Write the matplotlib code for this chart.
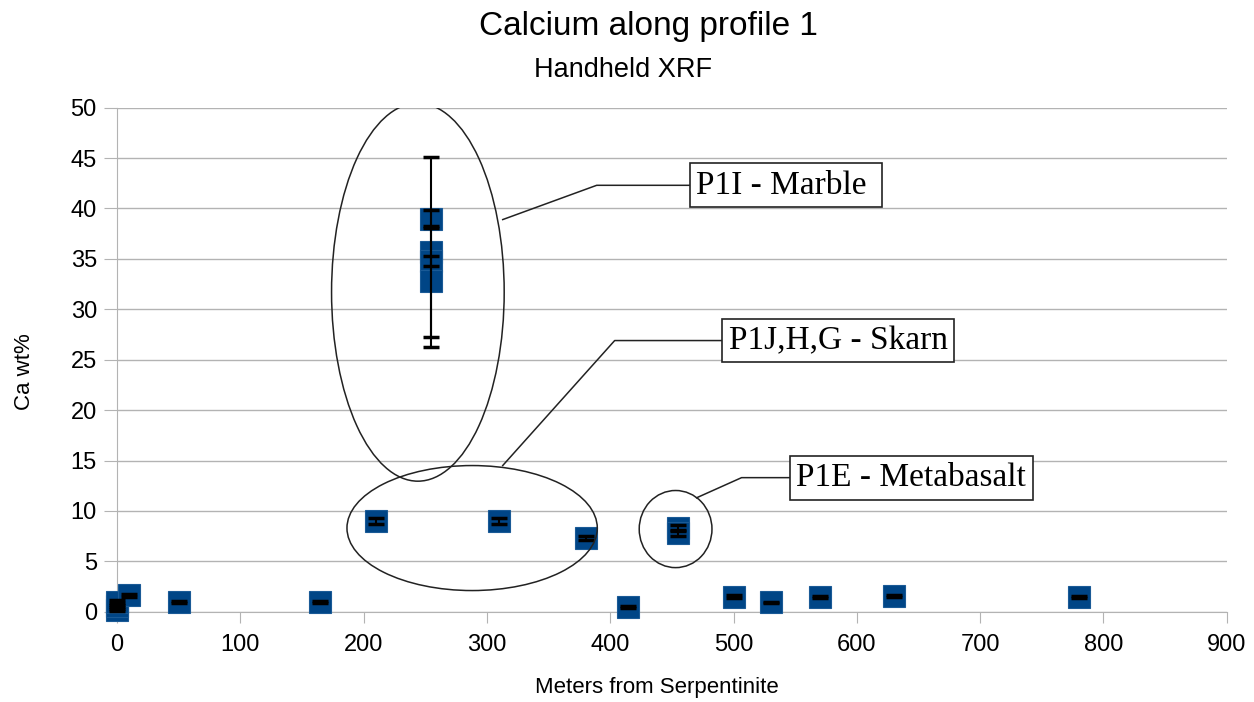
import matplotlib.pyplot as plt
from matplotlib.patches import Ellipse

# distance from serpentinite (m), Ca wt% and error
meters = [0, 0, 0, 10, 50, 165, 210, 255, 255, 255, 255, 310, 380, 414, 455, 455, 500, 530, 570, 630, 780]
ca_wt = [0.2, 0.6, 1.0, 1.65, 0.93, 1.0, 9.0, 39.0, 35.7, 34.8, 32.8, 9.0, 7.3, 0.45, 8.35, 7.85, 1.5, 0.95, 1.45, 1.55, 1.45]
ca_err = [0.1, 0.1, 0.15, 0.15, 0.1, 0.1, 0.3, 0.9, 9.4, 0.5, 5.5, 0.3, 0.2, 0.1, 0.3, 0.3, 0.15, 0.05, 0.1, 0.1, 0.1]

# groups circled on the chart: (center x, center y, width, height)
groups = {
    "marble": (244, 31.7, 140, 37.5),
    "skarn": (288, 8.3, 203, 12.4),
    "metabasalt": (453, 8.2, 59, 7.65),
}
# callouts: label, leader line x points, y points
callouts = [
    ("P1I - Marble ", [312.8, 389, 464.3], [38.9, 42.3, 42.3]),
    ("P1J,H,G - Skarn", [312.8, 403.6, 490.3], [14.5, 26.9, 26.9]),
    ("P1E - Metabasalt", [470, 506.5, 545.4], [11.3, 13.3, 13.3]),
]

plt.rcParams['font.family'] = ['Liberation Sans', 'DejaVu Sans']
fig = plt.figure(figsize=(12.54, 7.02), dpi=100)
ax = fig.add_axes([0.0933, 0.1286, 0.885, 0.718])

grey = '#b3b3b3'
ax.set_xlim(0, 900)
ax.set_ylim(0, 50)
ax.set_xticks(range(0, 901, 100))
ax.set_yticks(range(0, 51, 5))
ax.yaxis.grid(True, color=grey, lw=1)
ax.set_axisbelow(True)
for s in ['top', 'right']:
    ax.spines[s].set_visible(False)
for s in ['left', 'bottom']:
    ax.spines[s].set_color(grey)
ax.tick_params(axis='x', length=8, color=grey, labelsize=17, pad=8)
ax.tick_params(axis='y', length=9.5, color=grey, labelsize=17, pad=5)

ax.plot(meters, ca_wt, 's', ms=15.5, mfc='#004586', mec='#1a5a96', mew=0.8,
        clip_on=False, zorder=3)
ax.errorbar(meters, ca_wt, yerr=ca_err, fmt='none', ecolor='black',
            elinewidth=1.5, capsize=6, capthick=2.5, clip_on=False, zorder=4)

for cx, cy, w, h in groups.values():
    ax.add_patch(Ellipse((cx, cy), w, h, fill=False, ec='#222222', lw=1.1, zorder=5))

for label, xs, ys in callouts:
    ax.plot(xs, ys, color='#222222', lw=1.1, zorder=5)
    ax.annotate(label, xy=(xs[-1], ys[-1]), xytext=(5, 0), textcoords='offset points',
                ha='left', va='center', fontsize=24, family=['Liberation Serif'],
                bbox=dict(boxstyle='square,pad=0.2', fc='white', ec='#222222', lw=1.2),
                zorder=6)

fig.text(648 / 1254, 1 - 27 / 702, 'Calcium along profile 1', ha='center', va='center', fontsize=24)
fig.text(623 / 1254, 1 - 70 / 702, 'Handheld XRF', ha='center', va='center', fontsize=19.5)
fig.text(657 / 1254, 1 - 688 / 702, 'Meters from Serpentinite', ha='center', va='center', fontsize=16)
fig.text(24 / 1254, 1 - 372 / 702, 'Ca wt%', ha='center', va='center', rotation=90, fontsize=16)

plt.savefig('out.png', dpi=100)
